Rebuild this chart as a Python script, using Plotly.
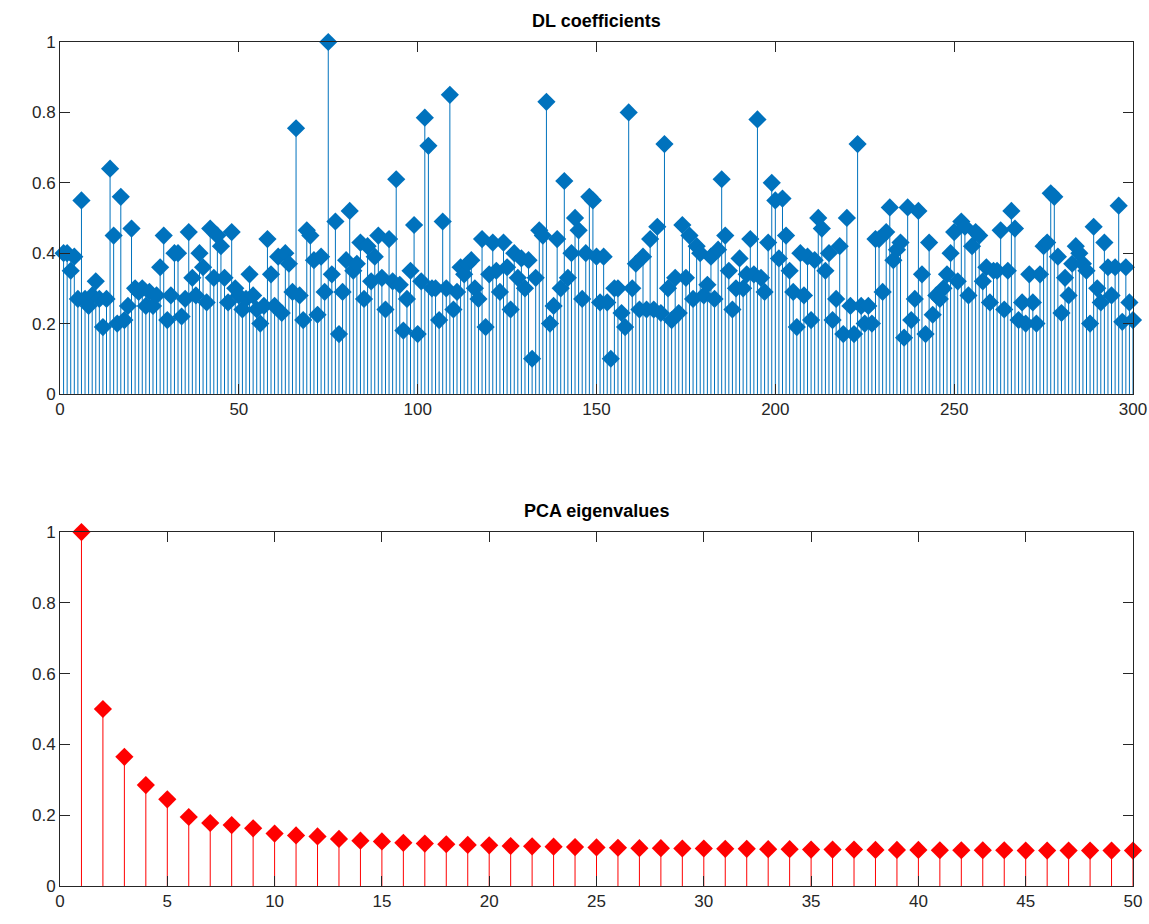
import plotly.graph_objects as go

dl_values = [
    0.40, 0.40, 0.35, 0.39, 0.27, 0.55, 0.27, 0.25, 0.28, 0.32,
    0.27, 0.19, 0.27, 0.64, 0.45, 0.20, 0.56, 0.21, 0.25, 0.47,
    0.30, 0.29, 0.30, 0.25, 0.29, 0.25, 0.28, 0.36, 0.45, 0.21,
    0.28, 0.40, 0.40, 0.22, 0.27, 0.46, 0.33, 0.28, 0.40, 0.36,
    0.26, 0.47, 0.33, 0.45, 0.42, 0.33, 0.26, 0.46, 0.30, 0.28,
    0.24, 0.27, 0.34, 0.28, 0.24, 0.20, 0.25, 0.44, 0.34, 0.25,
    0.39, 0.23, 0.40, 0.37, 0.29, 0.755, 0.28, 0.21, 0.465, 0.45,
    0.38, 0.225, 0.39, 0.29, 1.00, 0.34, 0.49, 0.17, 0.29, 0.38,
    0.52, 0.35, 0.37, 0.43, 0.27, 0.42, 0.32, 0.39, 0.45, 0.33,
    0.24, 0.44, 0.32, 0.61, 0.31, 0.18, 0.27, 0.35, 0.48, 0.17,
    0.32, 0.785, 0.705, 0.30, 0.30, 0.21, 0.49, 0.30, 0.85, 0.24,
    0.29, 0.36, 0.34, 0.37, 0.38, 0.30, 0.27, 0.44, 0.19, 0.34,
    0.43, 0.35, 0.29, 0.43, 0.36, 0.24, 0.40, 0.33, 0.385, 0.30,
    0.38, 0.10, 0.33, 0.465, 0.45, 0.83, 0.20, 0.25, 0.44, 0.30,
    0.605, 0.33, 0.40, 0.50, 0.465, 0.27, 0.40, 0.56, 0.55, 0.39,
    0.26, 0.39, 0.26, 0.10, 0.30, 0.30, 0.23, 0.19, 0.80, 0.30,
    0.37, 0.24, 0.39, 0.24, 0.44, 0.24, 0.475, 0.23, 0.71, 0.30,
    0.21, 0.33, 0.23, 0.48, 0.33, 0.45, 0.27, 0.42, 0.40, 0.28,
    0.31, 0.39, 0.27, 0.41, 0.61, 0.45, 0.35, 0.24, 0.30, 0.385,
    0.30, 0.34, 0.44, 0.34, 0.78, 0.33, 0.29, 0.43, 0.60, 0.55,
    0.385, 0.555, 0.45, 0.35, 0.29, 0.19, 0.40, 0.28, 0.39, 0.21,
    0.38, 0.50, 0.47, 0.35, 0.40, 0.21, 0.27, 0.42, 0.17, 0.50,
    0.25, 0.17, 0.71, 0.25, 0.20, 0.25, 0.20, 0.44, 0.44, 0.29,
    0.46, 0.53, 0.38, 0.41, 0.43, 0.16, 0.53, 0.21, 0.27, 0.52,
    0.34, 0.17, 0.43, 0.225, 0.28, 0.27, 0.30, 0.34, 0.40, 0.46,
    0.32, 0.49, 0.475, 0.28, 0.42, 0.46, 0.45, 0.32, 0.36, 0.26,
    0.35, 0.35, 0.465, 0.24, 0.35, 0.52, 0.47, 0.21, 0.26, 0.20,
    0.34, 0.26, 0.20, 0.34, 0.42, 0.43, 0.57, 0.56, 0.39, 0.23,
    0.33, 0.28, 0.37, 0.42, 0.40, 0.37, 0.35, 0.20, 0.475, 0.30,
    0.26, 0.43, 0.36, 0.28, 0.36, 0.535, 0.205, 0.36, 0.26, 0.21,
]
dl_index = list(range(1, len(dl_values) + 1))

pca_values = [
    1.00, 0.50, 0.365, 0.285, 0.245, 0.195, 0.178, 0.172, 0.163, 0.148,
    0.143, 0.140, 0.133, 0.128, 0.126, 0.122, 0.120, 0.118, 0.116, 0.115,
    0.113, 0.112, 0.111, 0.110, 0.109, 0.108, 0.107, 0.107, 0.106, 0.106,
    0.105, 0.105, 0.104, 0.104, 0.103, 0.103, 0.103, 0.102, 0.102, 0.102,
    0.101, 0.101, 0.101, 0.101, 0.100, 0.100, 0.100, 0.100, 0.100, 0.100,
]
pca_index = list(range(1, len(pca_values) + 1))

dl_xticks = [0, 50, 100, 150, 200, 250, 300]
pca_xticks = [0, 5, 10, 15, 20, 25, 30, 35, 40, 45, 50]
y_ticks = [0, 0.2, 0.4, 0.6, 0.8, 1]
y_ticklabels = ["0", "0.2", "0.4", "0.6", "0.8", "1"]

titles = ["DL coefficients", "PCA eigenvalues"]
BLUE = "#0072BD"
RED = "#FF0000"
AX = "#262626"
FONT = "Liberation Sans, Arial, sans-serif"


def stem_xy(xs, ys):
    sx, sy = [], []
    for x, y in zip(xs, ys):
        sx += [x, x, None]
        sy += [0, y, None]
    return sx, sy


fig = go.Figure()

sx, sy = stem_xy(dl_index, dl_values)
fig.add_trace(go.Scatter(x=sx, y=sy, mode="lines", line=dict(color=BLUE, width=1),
                         xaxis="x", yaxis="y", hoverinfo="skip", showlegend=False,
                         cliponaxis=False))
fig.add_trace(go.Scatter(x=dl_index, y=dl_values, mode="markers",
                         marker=dict(symbol="diamond", size=14, color=BLUE,
                                     line=dict(width=0)),
                         xaxis="x", yaxis="y", showlegend=False, cliponaxis=False))

sx2, sy2 = stem_xy(pca_index, pca_values)
fig.add_trace(go.Scatter(x=sx2, y=sy2, mode="lines", line=dict(color=RED, width=1),
                         xaxis="x2", yaxis="y2", hoverinfo="skip", showlegend=False,
                         cliponaxis=False))
fig.add_trace(go.Scatter(x=pca_index, y=pca_values, mode="markers",
                         marker=dict(symbol="diamond", size=14, color=RED,
                                     line=dict(width=0)),
                         xaxis="x2", yaxis="y2", showlegend=False, cliponaxis=False))

common = dict(showgrid=False, zeroline=False, showline=True, linecolor=AX, linewidth=1,
              mirror="allticks", ticks="inside", ticklen=10, tickcolor=AX, tickwidth=1,
              automargin=False,
              tickfont=dict(family=FONT, size=17, color=AX))

top_dom = [0.583, 1.0]
bot_dom = [0.0, 0.4194]

fig.update_layout(
    width=1149, height=924,
    margin=dict(l=60, r=16, t=42, b=38),
    paper_bgcolor="white", plot_bgcolor="white",
    xaxis=dict(domain=[0, 1], range=[0, 300], tickvals=dl_xticks, anchor="y", **common),
    yaxis=dict(domain=top_dom, range=[0, 1], tickvals=y_ticks, ticktext=y_ticklabels,
               anchor="x", **common),
    xaxis2=dict(domain=[0, 1], range=[0, 50], tickvals=pca_xticks, anchor="y2", **common),
    yaxis2=dict(domain=bot_dom, range=[0, 1], tickvals=y_ticks, ticktext=y_ticklabels,
                anchor="x2", **common),
    annotations=[
        dict(text="<b>%s</b>" % titles[0], x=0.5, y=top_dom[1], xref="paper", yref="paper",
             xanchor="center", yanchor="bottom", yshift=9, showarrow=False,
             font=dict(family=FONT, size=18, color="#000000")),
        dict(text="<b>%s</b>" % titles[1], x=0.5, y=bot_dom[1], xref="paper", yref="paper",
             xanchor="center", yanchor="bottom", yshift=9, showarrow=False,
             font=dict(family=FONT, size=18, color="#000000")),
    ],
)

fig.write_html("out.html")
